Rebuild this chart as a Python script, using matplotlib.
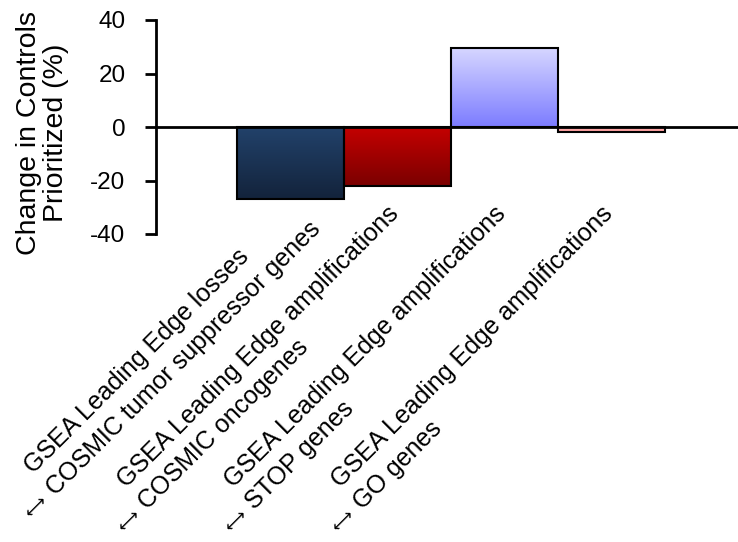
import numpy as np
import matplotlib
matplotlib.use("Agg")
import matplotlib.pyplot as plt

# ---------------- data ----------------
label_line1 = ["GSEA Leading Edge losses",
               "GSEA Leading Edge amplifications",
               "GSEA Leading Edge amplifications",
               "GSEA Leading Edge amplifications"]
label_line2 = ["COSMIC tumor suppressor genes",
               "COSMIC oncogenes",
               "STOP genes",
               "GO genes"]
link_symbol = r"$\longleftrightarrow$"
values = [-27, -22, 29.5, -2]
y_ticks = [-40, -20, 0, 20, 40]
y_label = "Change in Controls\nPrioritized (%)"

# ---------------- style ----------------
top_colors = ["#22426b", "#c40000", "#d6d6ff", "#ffb8b8"]
bottom_colors = ["#13233b", "#7a0000", "#7c7cff", "#ff9c9c"]
FONT = ["Liberation Sans", "DejaVu Sans"]
plt.rcParams["font.family"] = FONT

W, H, DPI = 7.38, 5.42, 100
fig = plt.figure(figsize=(W, H), dpi=DPI)
ax = fig.add_axes([156 / 738, (542 - 234) / 542, 582 / 738, 214 / 542])

x = np.arange(len(values))
bars = ax.bar(x, values, width=1.0, facecolor="none", edgecolor="black",
              linewidth=1.5, zorder=3)

# gradient fills clipped to each bar
for b, ctop, cbot in zip(bars, top_colors, bottom_colors):
    x0, y0 = b.get_x(), min(b.get_y(), b.get_y() + b.get_height())
    x1, y1 = x0 + b.get_width(), max(b.get_y(), b.get_y() + b.get_height())
    c0 = np.array(matplotlib.colors.to_rgb(cbot))
    c1 = np.array(matplotlib.colors.to_rgb(ctop))
    t = np.linspace(0, 1, 256)[:, None]
    grad = (c0[None, :] * (1 - t) + c1[None, :] * t)[:, None, :]
    im = ax.imshow(grad, extent=(x0, x1, y0, y1), origin="lower",
                   aspect="auto", zorder=2, interpolation="bilinear")
    im.set_clip_path(b)

ax.set_xlim(-1.257, 4.182)
ax.set_ylim(-40, 40)
ax.set_yticks(y_ticks)
ax.set_yticklabels([str(v) for v in y_ticks])
ax.tick_params(axis="y", direction="out", length=8, width=2, pad=14,
               labelsize=17.5)
ax.set_xticks([])
for s in ["top", "right", "bottom"]:
    ax.spines[s].set_visible(False)
ax.spines["left"].set_linewidth(2)
ax.spines["left"].set_bounds(-40, 40)
ax.axhline(0, color="black", linewidth=2, zorder=4, clip_on=False)

ax.set_ylabel(y_label, fontsize=20.5, linespacing=1.05)
ax.yaxis.set_label_coords(-0.15, 0.472)

# ---------------- category labels ----------------
fig.canvas.draw()
renderer = fig.canvas.get_renderer()
LFS = 18
def width_px(s):
    t = fig.text(0, 0, s, fontsize=LFS)
    w = t.get_window_extent(renderer).width
    t.remove()
    return w

u = np.array([np.sqrt(0.5), np.sqrt(0.5)])      # text direction (display)
d = np.array([np.sqrt(0.5), -np.sqrt(0.5)])     # next-line direction
L = 31.0
axes_bottom = ax.transAxes.transform((0, 0))[1]
inv = fig.transFigure.inverted()
for i in range(len(values)):
    cx = ax.transData.transform((x[i], 0))[0]
    w1, w2 = width_px(label_line1[i]), width_px(label_line2[i])
    Wb = max(w1, w2)
    E1 = np.array([cx + 2, axes_bottom + 19])
    if w2 > w1:
        E1 = E1 + 10 * u
    S1 = E1 - Wb * u
    S2 = S1 + L * d
    A = S2 - 23 * u - 6.5 * d
    for s, p in [(label_line1[i], S1), (label_line2[i], S2)]:
        fig.text(*inv.transform(p), s, fontsize=LFS, rotation=45,
                 rotation_mode="anchor", ha="left", va="baseline")
    fig.text(*inv.transform(A), link_symbol, fontsize=12, rotation=45,
             rotation_mode="anchor", ha="center", va="center")

fig.savefig("out.png", dpi=DPI)
